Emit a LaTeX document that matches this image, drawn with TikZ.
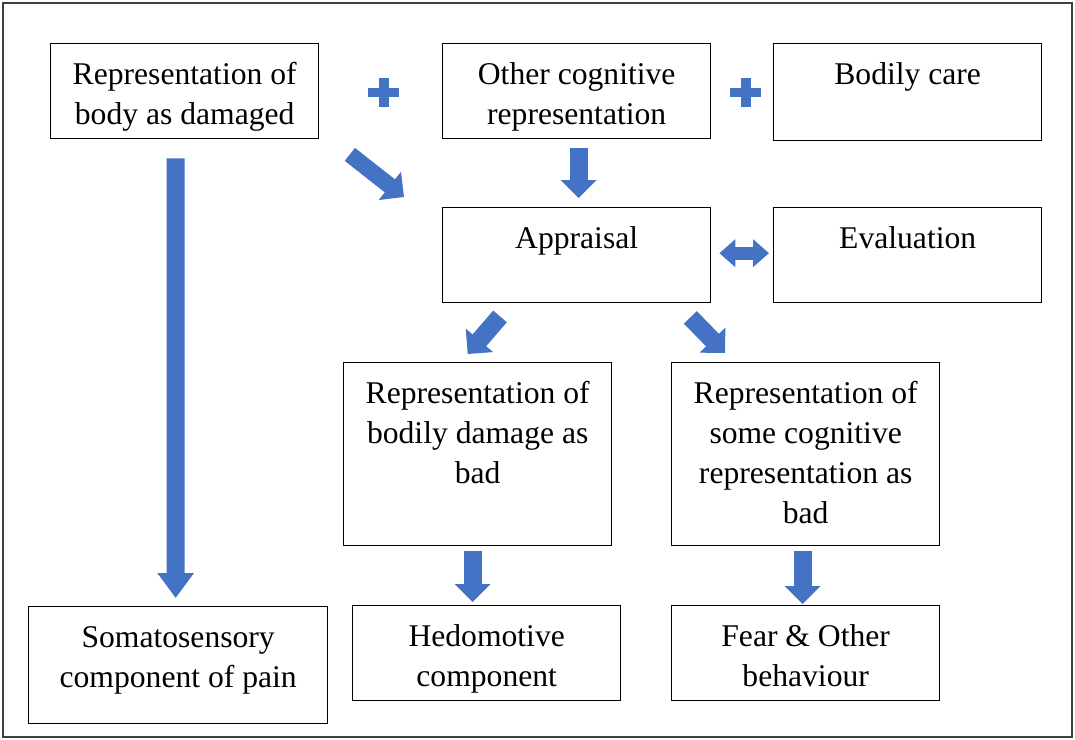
\documentclass[tikz,border=0pt]{standalone}
\usepackage{fontspec}
\setmainfont{Liberation Serif}
\usepackage{tikz}
\usetikzlibrary{arrows.meta, positioning, calc}
\definecolor{arrowblue}{HTML}{4472C4}
\definecolor{framegray}{HTML}{3F3F3F}
\newcommand{\boxtxt}[3]{\parbox[t][#2][t]{#1}{\fontsize{18}{22.8}\selectfont\centering\rule{0pt}{0.81cm}#3}}

\begin{document}
\begin{tikzpicture}[x=0.02cm, y=-0.02cm,
    box/.style={draw, line width=0.8pt, inner sep=0pt, anchor=north west},
    blockarrow/.style={arrowblue, line width=0.36cm, -{Triangle[width=0.7cm, length=0.36cm]}},
    plusbar/.style={arrowblue, line width=0.2cm}]
    \useasboundingbox (0, 0) rectangle (1075, 740);

    % Outer frame
    \draw[framegray, line width=1.1pt] (3, 3) rectangle (1072, 737);

    % Top row
    \node[box] (body) at (50, 43) {\boxtxt{5.36cm}{1.9cm}{Representation of\\body as damaged}};
    \node[box] (other) at (442, 43) {\boxtxt{5.36cm}{1.9cm}{Other cognitive\\representation}};
    \node[box] (care) at (773, 43) {\boxtxt{5.36cm}{1.94cm}{Bodily care}};

    % Middle row
    \node[box] (appr) at (442, 207) {\boxtxt{5.36cm}{1.9cm}{Appraisal}};
    \node[box] (eval) at (773, 207) {\boxtxt{5.36cm}{1.9cm}{Evaluation}};
    \node[box] (dmg) at (343, 362) {\boxtxt{5.36cm}{3.66cm}{Representation of\\bodily damage as\\bad}};
    \node[box] (cog) at (671, 362) {\boxtxt{5.36cm}{3.66cm}{Representation of\\some cognitive\\representation as\\bad}};

    % Bottom row
    \node[box] (soma) at (28, 606) {\boxtxt{5.98cm}{2.34cm}{Somatosensory\\component of pain}};
    \node[box] (hedo) at (352, 605) {\boxtxt{5.36cm}{1.9cm}{Hedomotive\\component}};
    \node[box] (fear) at (671, 605) {\boxtxt{5.36cm}{1.9cm}{Fear \& Other\\behaviour}};

    % Plus signs
    \foreach \px in {383.5, 745.5}{
        \draw[plusbar] (\px-15.5, 92.5) -- (\px+15.5, 92.5);
        \draw[plusbar] (\px, 78) -- (\px, 107);
    }

    % Block arrows
    \draw[blockarrow, -{Triangle[width=0.7cm, length=0.5cm]}] ($(body.south)+(-9, 19)$) -- ($(soma.north)+(-2.5, -8)$);
    \draw[blockarrow, line width=0.33cm] ($(body.south east)+(30.5, 15)$) -- ($(appr.north west)+(-38, -10)$);
    \draw[blockarrow] ($(other.south)+(2, 9)$) -- ($(appr.north)+(2, -9)$);
    \draw[blockarrow] ($(appr.south west)+(58, 13)$) -- ($(dmg.north)+(-10, -8)$);
    \draw[blockarrow] ($(appr.south east)+(-21, 14)$) -- ($(cog.north west)+(54, -9)$);
    \draw[blockarrow] ($(dmg.south)+(-5, 5)$) -- ($(hedo.north)+(-14, -3)$);
    \draw[blockarrow] ($(cog.south)+(-3, 5)$) -- ($(fear.north)+(-3, -1)$);
    \draw[arrowblue, line width=0.26cm, {Triangle[width=0.54cm, length=0.32cm]}-{Triangle[width=0.54cm, length=0.32cm]}] ($(appr.east)+(8, -2)$) -- ($(eval.west)+(-4, -2)$);
\end{tikzpicture}
\end{document}
